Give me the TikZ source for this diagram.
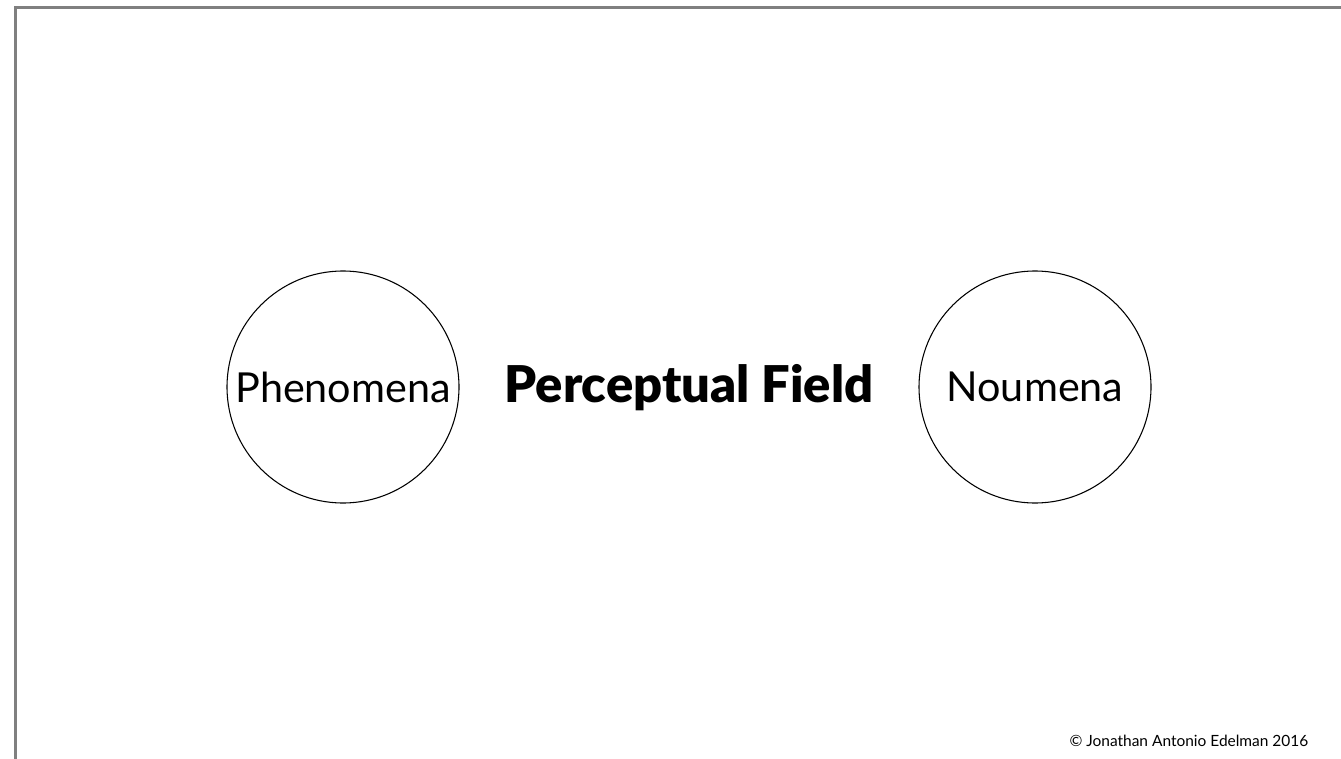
\documentclass[tikz,border=0pt]{standalone}
\usepackage{fontspec}
\setmainfont{Lato}
\newfontfamily\heavyfont{Lato Black}
\usepackage{tikz}
\usetikzlibrary{positioning}

\begin{document}
\begin{tikzpicture}[
  x=0.75pt, y=-0.75pt,
  realm/.style={circle, draw=black, line width=0.8pt, minimum size=174pt,
                inner sep=0pt, font=\fontsize{31}{34}\selectfont},
  field/.style={font=\fontsize{38}{42}\heavyfont},
  frame/.style={draw=black!50, line width=1.6pt},
  credit/.style={font=\fontsize{11.6}{13}\selectfont, anchor=east},
]
\useasboundingbox (0,0) rectangle (1341,759);

\draw[frame] (15.5,759) -- (15.5,7.5) -- (1341,7.5);

\node[realm] (phen) at (343,387) {Phenomena};
\node[realm] (noum) at (1035,387) {Noumena};
\node[field] (pfield) at (689,388) {Perceptual Field};

\node[credit] (copy) at (1313,741) {© Jonathan Antonio Edelman 2016};

\end{tikzpicture}
\end{document}
